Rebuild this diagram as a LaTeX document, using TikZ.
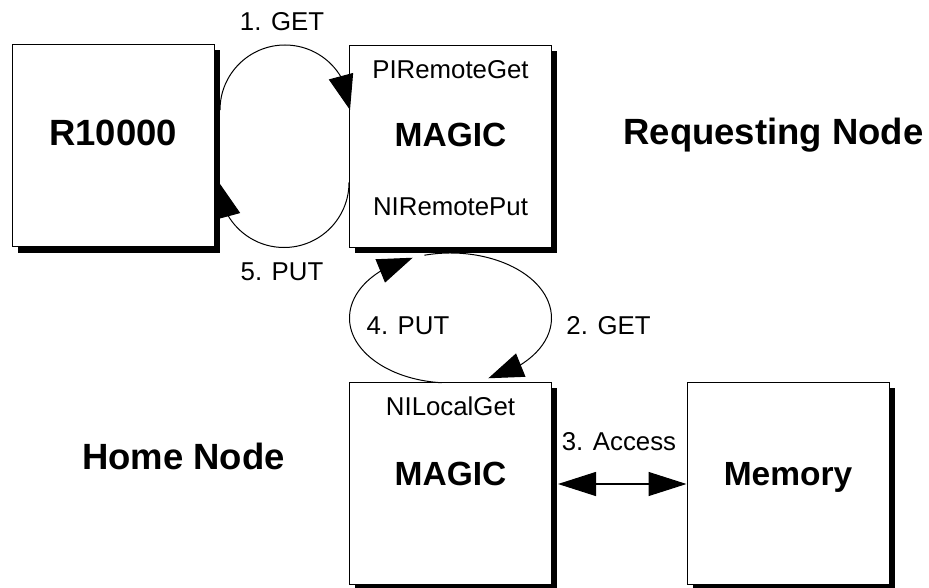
\documentclass[tikz,border=0pt]{standalone}
\usepackage{fontspec}
\setmainfont{Liberation Sans}
\usetikzlibrary{arrows.meta,bending,shadows,calc}
\begin{document}
\begin{tikzpicture}[x=1pt,y=-1pt,
  box/.style={draw=black,line width=1pt,fill=white,minimum width=202pt,minimum height=202pt,inner sep=0pt,
    general shadow={fill=black,shadow xshift=5.5pt,shadow yshift=-5.5pt}},
  bigtxt/.style={font=\fontsize{36.5}{40}\selectfont\bfseries,anchor=base,inner sep=0pt},
  magtxt/.style={font=\fontsize{33.5}{38}\selectfont\bfseries,anchor=base,inner sep=0pt},
  smalltxt/.style={font=\fontsize{25.8}{30}\selectfont,anchor=base,inner sep=0pt},
  loopline/.style={line width=1pt},
  fwd/.style={-{Triangle[length=35pt,width=25pt,flex]}}
]
\useasboundingbox (0,0) rectangle (929,588);
\node[box] (cpu) at (113,146) {};
\node[box] (m1) at (450.5,146.5) {};
\node[box] (m2) at (450.5,483.5) {};
\node[box] (mem) at (788,483.5) {};

\node[bigtxt] (cpuL) at (cpu.center) {R10000};
\node[magtxt] (m1L) at ($(m1.center)+(0,0.5)$) {MAGIC};
\node[smalltxt] (pirg) at ($(m1.north)+(0,34)$) {PIRemoteGet};
\node[smalltxt] (nirp) at ($(m1.south)+(0,-33)$) {NIRemotePut};
\node[magtxt] (m2L) at ($(m2.center)+(0,1.5)$) {MAGIC};
\node[smalltxt] (nilg) at ($(m2.north)+(0,33.5)$) {NILocalGet};
\node[magtxt] (memL) at ($(mem.center)+(0,1.5)$) {Memory};
\node[bigtxt] (req) at (773.5,145) {Requesting Node};
\node[bigtxt] (home) at (183.5,469) {Home Node};
\node[smalltxt] (l1) at (282,31) {1. GET};
\node[smalltxt] (l5) at (282,280) {5. PUT};
\node[smalltxt] (l4) at (408,334) {4. PUT};
\node[smalltxt] (l2) at (608.5,334) {2. GET};
\node[smalltxt] (l3) at (619,450) {3. Access};

\coordinate (tl) at ($(cpu.east)+(5.5,-36)$);
\draw[loopline,fwd] (tl) arc[start angle=180,end angle=360,x radius=65,y radius=65];
\coordinate (bl) at ($(m1.west)+(0,36)$);
\draw[loopline,fwd] (bl) arc[start angle=0,end angle=180,x radius=65,y radius=65];
\coordinate (mc) at ($(m1.south)!0.5!(m2.north)+(0,3)$);
\draw[loopline,fwd] ($(mc)+(95:101 and 65)$) arc[start angle=95,end angle=248,x radius=101,y radius=65];
\draw[loopline,fwd] ($(mc)+(255:101 and 65)$) arc[start angle=255,end angle=428,x radius=101,y radius=65];

\draw[line width=1.2pt,{Triangle[length=38pt,width=24pt]}-{Triangle[length=38pt,width=24pt]}]
  ($(m2.east)+(6,0.5)$) -- ($(mem.west)+(0,0.5)$);
\end{tikzpicture}
\end{document}
